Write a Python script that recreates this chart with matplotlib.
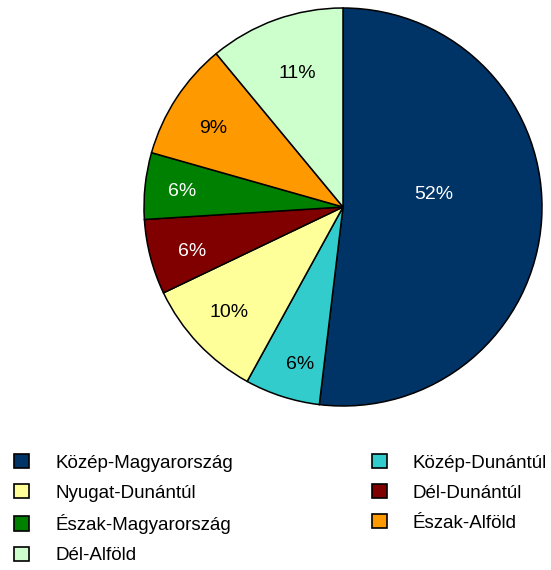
import matplotlib
matplotlib.use("Agg")
import matplotlib.pyplot as plt
import matplotlib.patches
import numpy

regions = [
    "Közép-Magyarország",
    "Közép-Dunántúl",
    "Nyugat-Dunántúl",
    "Dél-Dunántúl",
    "Észak-Magyarország",
    "Észak-Alföld",
    "Dél-Alföld",
]
shares = [51.9, 6.1, 9.9, 6.1, 5.4, 9.6, 11.0]
labels = ["52%", "6%", "10%", "6%", "6%", "9%", "11%"]
colors = ["#003366", "#33CCCC", "#FFFF99", "#800000", "#008000", "#FF9900", "#CCFFCC"]
text_colors = ["white", "black", "black", "white", "white", "black", "black"]

# label placement (fraction of radius, angle tweak in degrees)
label_dist = [0.46, 0.82, 0.78, 0.79, 0.81, 0.76, 0.71]
label_turn = [11, 2.5, -0.5, 2, 0.5, 2, -1]

plt.rcParams["font.family"] = ["Liberation Sans", "DejaVu Sans"]

fig = plt.figure(figsize=(5.51, 5.70), dpi=100)
ax = fig.add_axes([144 / 551, 1 - 406 / 570, 398 / 551, 398 / 570])
wedges, _ = ax.pie(
    shares,
    colors=colors,
    startangle=90,
    counterclock=False,
    wedgeprops=dict(edgecolor="black", linewidth=1.1),
)
for w, lab, tc, d, t in zip(wedges, labels, text_colors, label_dist, label_turn):
    mid = numpy.deg2rad((w.theta1 + w.theta2) / 2 + t)
    ax.text(d * numpy.cos(mid), d * numpy.sin(mid), lab, color=tc,
            ha="center", va="center", fontsize=14)
ax.set_xlim(-1.0, 1.0)
ax.set_ylim(-1.0, 1.0)
ax.set_aspect("equal")

handles = [
    matplotlib.patches.Patch(facecolor=c, edgecolor="black", linewidth=1.2, label=r)
    for r, c in zip(regions, colors)
]
order = [0, 2, 4, 6, 1, 3, 5]
fig.legend(
    [handles[i] for i in order],
    [regions[i] for i in order],
    loc="upper left",
    bbox_to_anchor=(14 / 551, 1 - 454 / 570),
    ncol=2,
    frameon=False,
    fontsize=13.5,
    borderpad=0,
    borderaxespad=0,
    handlelength=0.8,
    handleheight=0.8,
    handletextpad=1.39,
    labelspacing=0.66,
    columnspacing=7.4,
)

fig.savefig("out.png", dpi=100)
